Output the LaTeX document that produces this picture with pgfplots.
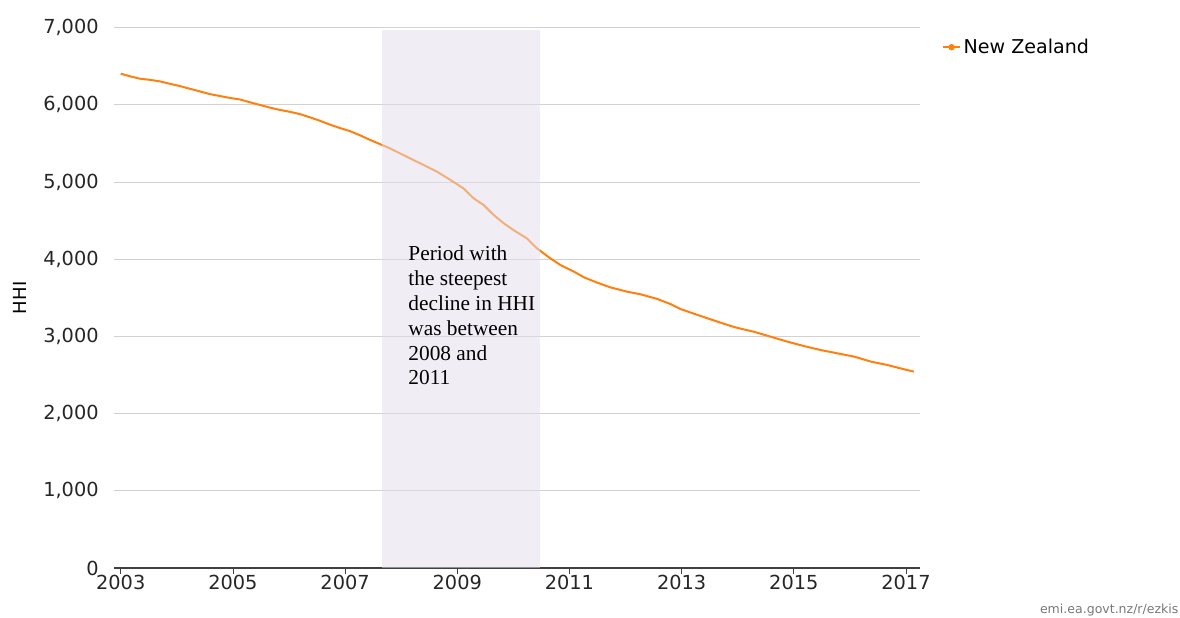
\documentclass[border=0pt]{standalone}
\usepackage{fontspec}
\setmainfont{DejaVu Sans}
\newfontfamily\annfont{Liberation Serif}
\usepackage{pgfplots}
\pgfplotsset{compat=1.18}
\definecolor{nzorange}{RGB}{255,128,14}
\definecolor{bandcol}{RGB}{226,222,234}
\definecolor{gridgray}{RGB}{210,210,210}
\definecolor{footgray}{RGB}{120,120,120}
\begin{document}
\begin{tikzpicture}
\useasboundingbox (0,0) rectangle (885pt,462.75pt);
\begin{axis}[
  at={(85.5pt,36.75pt)}, anchor=south west,
  width=604.5pt, height=405.2pt, scale only axis,
  xmin=2002.88, xmax=2017.25, ymin=0, ymax=7000,
  xtick={2003,2005,...,2017}, ytick={0,1000,...,7000},
  axis lines=left, axis line style={-},
  x axis line style={draw=black!75, line width=0.8pt},
  y axis line style={draw=none},
  tick align=outside, major tick length=4.5pt,
  xtick style={draw=black!75, line width=0.6pt},
  ytick style={draw=none},
  ymajorgrids, grid style={gridgray, line width=0.8pt},
  /pgf/number format/assume math mode=true,
  /pgf/number format/1000 sep={,},
  tick label style={font=\fontsize{14.5}{16}\selectfont, text=black!85},
  xticklabel style={/pgf/number format/1000 sep={}, yshift=2.5pt},
  yticklabel style={xshift=-3.5pt},
  ylabel={HHI},
  every axis y label/.style={at={(axis description cs:-0.1166,0.5)}, anchor=center, rotate=90, font=\fontsize{13.5}{16}\selectfont},
  legend style={at={(axis description cs:1.027,0.964)}, anchor=west, draw=none, fill=none, inner sep=0pt, font=\fontsize{14.3}{16}\selectfont, legend cell align=left},
  legend image code/.code={\draw[line width=1.5pt] (0pt,0pt) -- (12.75pt,0pt); \fill (6.4pt,0pt) circle (1.6pt);},
  clip=false,
]
\addplot[nzorange, line width=1.5pt] coordinates {
(2003.00,6405) (2003.17,6370) (2003.34,6340) (2003.52,6325) (2003.70,6305)
(2003.87,6275) (2004.05,6245) (2004.23,6210) (2004.41,6175) (2004.59,6140)
(2004.77,6115) (2004.95,6090) (2005.13,6070) (2005.30,6035) (2005.48,6000)
(2005.66,5965) (2005.84,5935) (2006.02,5910) (2006.20,5880) (2006.37,5840)
(2006.55,5795) (2006.73,5745) (2006.91,5700) (2007.09,5660) (2007.27,5605)
(2007.45,5545) (2007.63,5490) (2007.80,5437) (2008.04,5350) (2008.34,5243)
(2008.64,5134) (2008.88,5027) (2009.11,4919) (2009.29,4790) (2009.47,4703)
(2009.65,4573) (2009.83,4466) (2010.00,4379) (2010.24,4271) (2010.42,4142)
(2010.66,4012) (2010.84,3925) (2011.08,3840)
(2011.26,3766) (2011.50,3696) (2011.73,3636) (2012.03,3580) (2012.27,3546)
(2012.57,3485) (2012.80,3420) (2012.98,3355) (2013.34,3265) (2013.64,3192)
(2013.88,3135) (2014.00,3110) (2014.29,3061) (2014.59,2996) (2014.89,2932)
(2015.18,2876) (2015.48,2824) (2015.78,2781) (2016.08,2738) (2016.38,2673)
(2016.67,2630) (2016.97,2574) (2017.14,2545)
};
\addlegendentry{New Zealand}
\addplot[draw=none, fill=bandcol, fill opacity=0.5, forget plot] coordinates {
(2007.66,0) (2007.66,6975) (2010.48,6975) (2010.48,0)} -- cycle;
\node[anchor=north west, inner sep=0pt, align=left,
  font=\annfont\fontsize{16}{18.6}\selectfont] at (axis cs:2008.125,4175)
  {Period with\\the steepest\\decline in HHI\\was between\\2008 and\\2011};
\end{axis}
\node[anchor=base east, inner sep=0pt, text=footgray, font=\fontsize{9.4}{11}\selectfont] at (884pt,3pt) {emi.ea.govt.nz/r/ezkis};
\end{tikzpicture}
\end{document}
